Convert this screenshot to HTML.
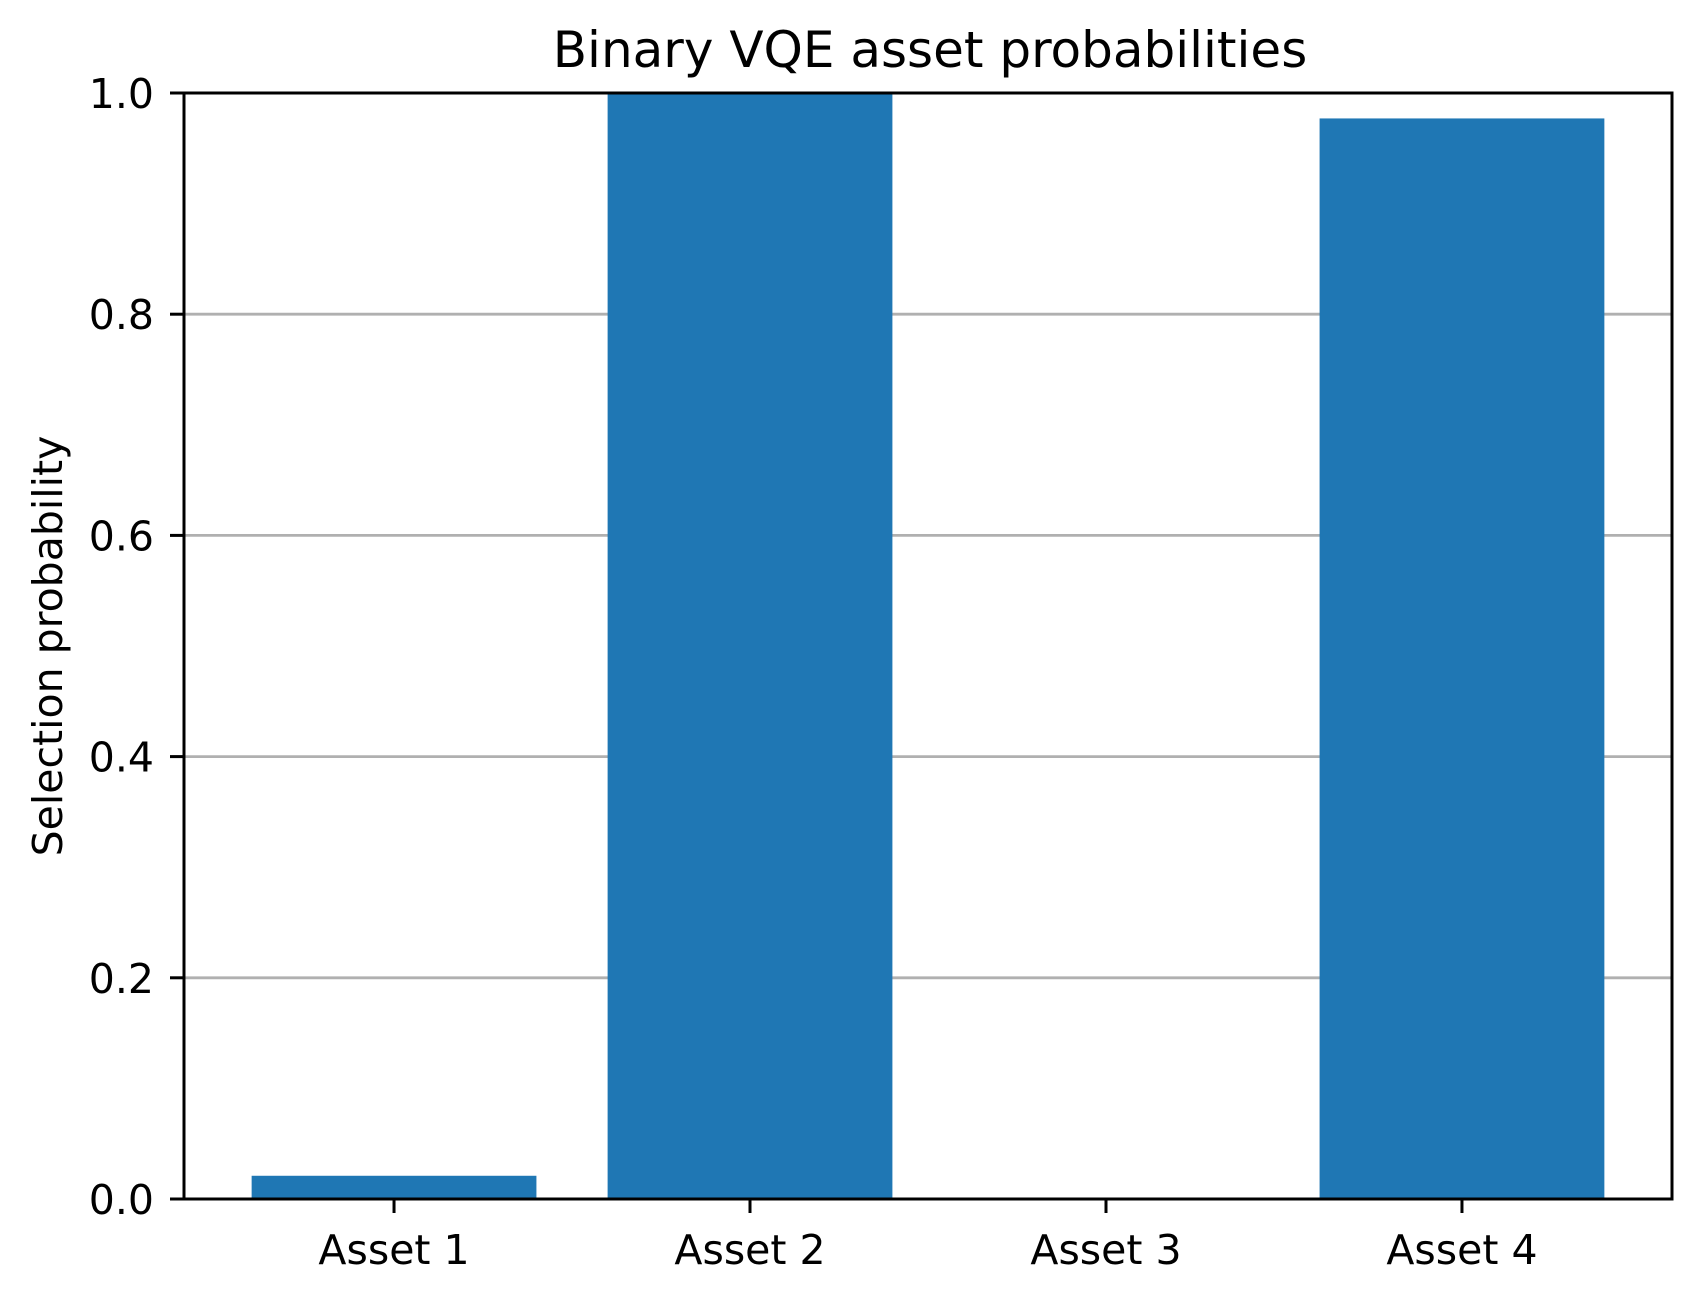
<!DOCTYPE html>
<html><head><meta charset="utf-8"><style>
html,body{margin:0;padding:0;background:#fff;}
svg{display:block;font-family:"DejaVu Sans","Liberation Sans",sans-serif;}
</style></head><body>
<svg id="chart" width="1702" height="1302" viewBox="0 0 1702 1302">
<text x="930" y="67" font-size="50" text-anchor="middle">Binary VQE asset probabilities</text>
<text transform="translate(62,646) rotate(-90)" font-size="41" text-anchor="middle">Selection probability</text>
<g id="grid"></g><g id="bars"></g><g id="axes"></g>
</svg>
<script>
const categories = ["Asset 1","Asset 2","Asset 3","Asset 4"];
const values = [0.021, 1.0, 0.0, 0.977];
const yTicks = [0.0, 0.2, 0.4, 0.6, 0.8, 1.0];
const yTickLabels = ["0.0","0.2","0.4","0.6","0.8","1.0"];

const L=184,R=1672,T=93,B=1199;
const xMin=-0.59,xMax=3.59;
const xs=v=>L+(v-xMin)/(xMax-xMin)*(R-L);
const ys=v=>B-v*(B-T);
const NS="http://www.w3.org/2000/svg";
function mk(tag,attrs,parent){const e=document.createElementNS(NS,tag);for(const k in attrs)e.setAttribute(k,attrs[k]);parent.appendChild(e);return e;}
const grid=document.getElementById('grid'),bars=document.getElementById('bars'),axes=document.getElementById('axes');

yTicks.forEach((t,i)=>{
  const y=ys(t);
  if(t>0&&t<1){const g=mk('line',{x1:L,x2:R,y1:y,y2:y,stroke:'#b0b0b0','stroke-width':2.8},grid);
  
  }
  const tk=mk('line',{x1:L-14,x2:L,y1:y,y2:y,stroke:'#000','stroke-width':3},axes);
  
  
  const lb=mk('text',{x:L-30,y:y+15,'font-size':41,'text-anchor':'end'},axes);
  lb.textContent=yTickLabels[i];
  
  
});
categories.forEach((c,i)=>{
  const x0=xs(i-0.4),x1=xs(i+0.4),y=ys(values[i]);
  const r=mk('rect',{x:x0,y:y,width:x1-x0,height:B-y,fill:'#1f77b4'},bars);
  
  
  const cx=xs(i);
  const tk=mk('line',{x1:cx,x2:cx,y1:B,y2:B+14,stroke:'#000','stroke-width':3},axes);
  
  
  const lb=mk('text',{x:cx,y:1264,'font-size':41,'text-anchor':'middle'},axes);
  lb.textContent=c;
  
  
});
const fr=mk('rect',{x:L,y:T,width:R-L,height:B-T,fill:'none',stroke:'#000','stroke-width':3},axes);


</script>
</body></html>
